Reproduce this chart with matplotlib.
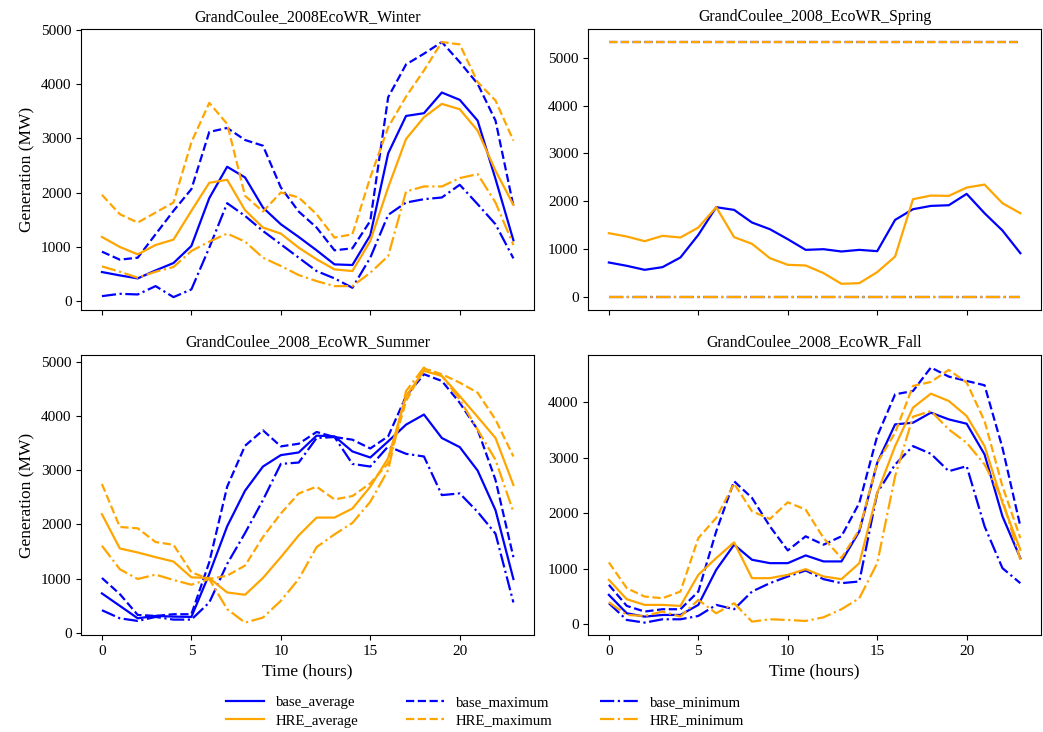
import numpy as np
import matplotlib
matplotlib.use("Agg")
import matplotlib.pyplot as plt

plt.rcParams["font.family"] = ["Liberation Serif", "DejaVu Serif"]
plt.rcParams["font.size"] = 11

hours = list(range(24))

# Winter
winter_base_avg = [536, 474, 419, 566, 702, 1016, 1897, 2475, 2278, 1724, 1416, 1182,
                   936, 677, 665, 1213, 2722, 3411, 3461, 3842, 3707, 3325, 2250, 1121]
winter_base_max = [911, 764, 800, 1232, 1663, 2063, 3116, 3190, 2968, 2863, 2094, 1650,
                   1355, 936, 973, 1478, 3756, 4360, 4557, 4772, 4403, 4003, 3325, 1755]
winter_base_min = [92, 135, 123, 277, 74, 216, 985, 1804, 1570, 1293, 1047, 800,
                   554, 419, 246, 800, 1589, 1816, 1878, 1909, 2143, 1786, 1416, 788]
winter_hre_avg = [1182, 998, 862, 1034, 1133, 1663, 2180, 2235, 1675, 1355, 1244, 985,
                  770, 585, 554, 1108, 2094, 2987, 3387, 3633, 3534, 3140, 2401, 1773]
winter_hre_max = [1958, 1601, 1447, 1632, 1816, 2925, 3651, 3264, 1940, 1650, 2001, 1909,
                  1601, 1170, 1232, 2278, 3202, 3768, 4249, 4772, 4729, 4034, 3695, 2956]
winter_hre_min = [640, 542, 431, 542, 628, 924, 1096, 1244, 1096, 800, 647, 480,
                  369, 277, 277, 523, 831, 2020, 2112, 2112, 2266, 2340, 1816, 1034]

# Spring
spring_base_avg = [723, 654, 570, 626, 828, 1300, 1878, 1822, 1558, 1419, 1210, 987,
                   1001, 953, 987, 960, 1613, 1836, 1905, 1919, 2156, 1752, 1391, 918]
spring_base_max = [5327] * 24
spring_base_min = [0] * 24
spring_hre_avg = [1335, 1266, 1168, 1280, 1245, 1453, 1878, 1252, 1113, 814, 675, 661,
                  501, 278, 292, 522, 848, 2045, 2121, 2114, 2288, 2350, 1961, 1752]
spring_hre_max = [5327] * 24
spring_hre_min = [0] * 24

# Summer
summer_base_avg = [725, 496, 266, 310, 297, 291, 1084, 1964, 2621, 3067, 3278, 3327,
                   3637, 3625, 3346, 3234, 3532, 3841, 4027, 3594, 3426, 2993, 2261, 991]
summer_base_max = [1010, 713, 328, 310, 341, 341, 1301, 2695, 3451, 3736, 3439, 3488,
                   3705, 3612, 3563, 3401, 3625, 4368, 4771, 4647, 4244, 3748, 2819, 1394]
summer_base_min = [415, 266, 217, 291, 242, 242, 558, 1270, 1840, 2447, 3116, 3141,
                   3594, 3612, 3116, 3067, 3439, 3302, 3253, 2540, 2571, 2230, 1828, 558]
summer_hre_avg = [2187, 1555, 1481, 1394, 1314, 1022, 1010, 743, 700, 1010, 1394, 1797,
                  2125, 2125, 2292, 2695, 3222, 4368, 4833, 4740, 4368, 3984, 3594, 2726]
summer_hre_max = [2745, 1952, 1927, 1673, 1623, 1115, 991, 1053, 1239, 1766, 2200, 2571,
                  2695, 2460, 2522, 2757, 3129, 4275, 4876, 4771, 4616, 4430, 3934, 3253]
summer_hre_min = [1605, 1171, 991, 1072, 973, 886, 991, 434, 186, 279, 589, 991,
                  1580, 1815, 2026, 2416, 3005, 4461, 4895, 4740, 4306, 3748, 3191, 2230]

# Fall
fall_base_avg = [529, 198, 138, 168, 168, 349, 980, 1432, 1161, 1100, 1100, 1239,
                 1131, 1131, 1672, 2905, 3597, 3627, 3808, 3687, 3609, 3056, 1943, 1191]
fall_base_max = [710, 331, 229, 271, 271, 589, 1672, 2574, 2274, 1763, 1329, 1583,
                 1432, 1583, 2184, 3386, 4138, 4198, 4620, 4457, 4379, 4301, 3176, 1763]
fall_base_min = [379, 78, 30, 90, 90, 150, 349, 271, 589, 740, 860, 968,
                 812, 740, 770, 2364, 2875, 3206, 3068, 2755, 2845, 1763, 1010, 740]
fall_hre_avg = [800, 451, 349, 349, 331, 890, 1191, 1474, 830, 830, 890, 992,
                860, 812, 1100, 2364, 3206, 3898, 4150, 4018, 3747, 3206, 2184, 1341]
fall_hre_max = [1113, 650, 499, 469, 589, 1552, 1913, 2532, 2033, 1895, 2196, 2063,
                1552, 1191, 1703, 2905, 3447, 4289, 4361, 4577, 4349, 3657, 2484, 1552]
fall_hre_min = [397, 168, 150, 229, 138, 439, 198, 379, 48, 90, 78, 60,
                126, 271, 469, 1100, 2665, 3735, 3838, 3506, 3266, 2875, 2244, 1161]

titles = ["GrandCoulee_2008EcoWR_Winter", "GrandCoulee_2008_EcoWR_Spring",
          "GrandCoulee_2008_EcoWR_Summer", "GrandCoulee_2008_EcoWR_Fall"]
seasons = [
    (winter_base_avg, winter_base_max, winter_base_min, winter_hre_avg, winter_hre_max, winter_hre_min),
    (spring_base_avg, spring_base_max, spring_base_min, spring_hre_avg, spring_hre_max, spring_hre_min),
    (summer_base_avg, summer_base_max, summer_base_min, summer_hre_avg, summer_hre_max, summer_hre_min),
    (fall_base_avg, fall_base_max, fall_base_min, fall_hre_avg, fall_hre_max, fall_hre_min),
]
names = ["average", "maximum", "minimum"]
styles = ["-", "--", "-."]

fig, axes = plt.subplots(2, 2, figsize=(10.43, 7.32), dpi=100, sharex=True)
fig.subplots_adjust(left=0.078, right=0.998, top=0.96, bottom=0.132, wspace=0.12, hspace=0.16)

for ax, title, data in zip(axes.flat, titles, seasons):
    for k in range(3):
        ax.plot(hours, data[k], color="blue", ls=styles[k], lw=1.6, label="base_" + names[k])
    for k in range(3):
        ax.plot(hours, data[3 + k], color="orange", ls=styles[k], lw=1.6, label="HRE_" + names[k])
    ax.set_title(title, fontsize=11.4)
    ax.set_xticks([0, 5, 10, 15, 20])

axes[0, 0].set_ylabel("Generation (MW)", fontsize=12.5)
axes[1, 0].set_ylabel("Generation (MW)", fontsize=12.5)
axes[1, 0].set_xlabel("Time (hours)", fontsize=12.5)
axes[1, 1].set_xlabel("Time (hours)", fontsize=12.5)

handles, labels = axes[0, 0].get_legend_handles_labels()
order = [0, 3, 1, 4, 2, 5]
fig.legend([handles[i] for i in order], [labels[i] for i in order], ncol=3,
           loc="lower center", bbox_to_anchor=(0.465, -0.012), frameon=False,
           columnspacing=3.2, handlelength=2.6, labelspacing=0.35, fontsize=10.6)

fig.savefig("out.png", dpi=100)
